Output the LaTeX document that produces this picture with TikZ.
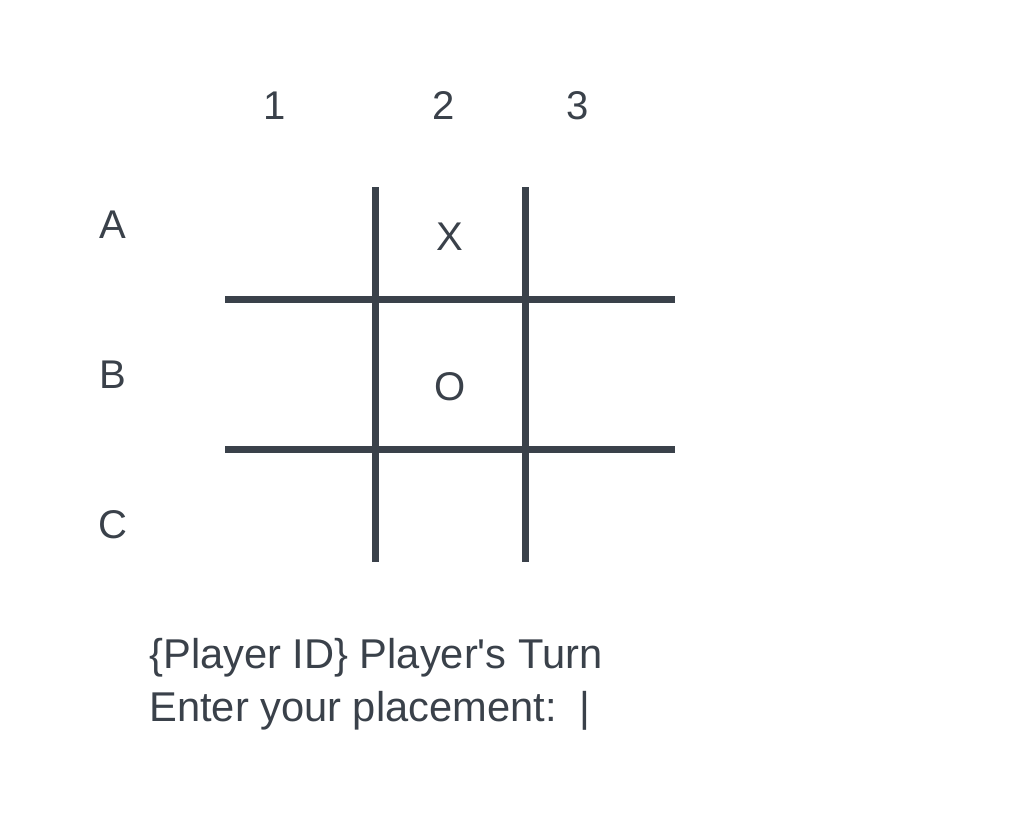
\documentclass[tikz,border=0pt]{standalone}
\usepackage{fontspec}
\setmainfont{Liberation Sans}
\usepackage{tikz}
\usetikzlibrary{positioning}
\definecolor{BoardInk}{HTML}{3A414A}

\begin{document}
\begin{tikzpicture}[
    x=0.02cm, y=-0.02cm,
    axislabel/.style={
      font=\fontsize{22.8}{27}\selectfont,
      text=BoardInk,
      inner sep=0pt
    },
    cellmark/.style={
      axislabel
    },
    gridline/.style={
      line width=3.98pt,
      color=BoardInk
    },
    prompt/.style={
      axislabel,
      font=\fontsize{23.7}{28}\selectfont,
      anchor=base west
    }
  ]
  \useasboundingbox[fill=white] (0,0) rectangle (1013,825);

  % Column labels
  \node[axislabel] (col1) at (274.5,106) {1};
  \node[axislabel] (col2) at (443.5,106) {2};
  \node[axislabel] (col3) at (578,106) {3};

  % Row labels
  \node[axislabel] (rowA) at (112.5,225) {A};
  \node[axislabel] (rowB) at (112.5,375) {B};
  \node[axislabel] (rowC) at (112.5,525) {C};

  % Board
  \draw[gridline] (375,187) -- (375,562);
  \draw[gridline] (525,187) -- (525,562);
  \draw[gridline] (225,299.5) -- (675,299.5);
  \draw[gridline] (225,449.5) -- (675,449.5);

  % Marks
  \node[cellmark] (markX) at (450,237) {X};
  \node[cellmark] (markO) at (450,387) {O};

  % Prompt
  \node[prompt] (turn) at (149,668)
    {\{Player ID\} Player\textquotesingle s Turn};
  \node[prompt] (entry) at (149,721)
    {Enter your placement:\ \ |};
\end{tikzpicture}
\end{document}
